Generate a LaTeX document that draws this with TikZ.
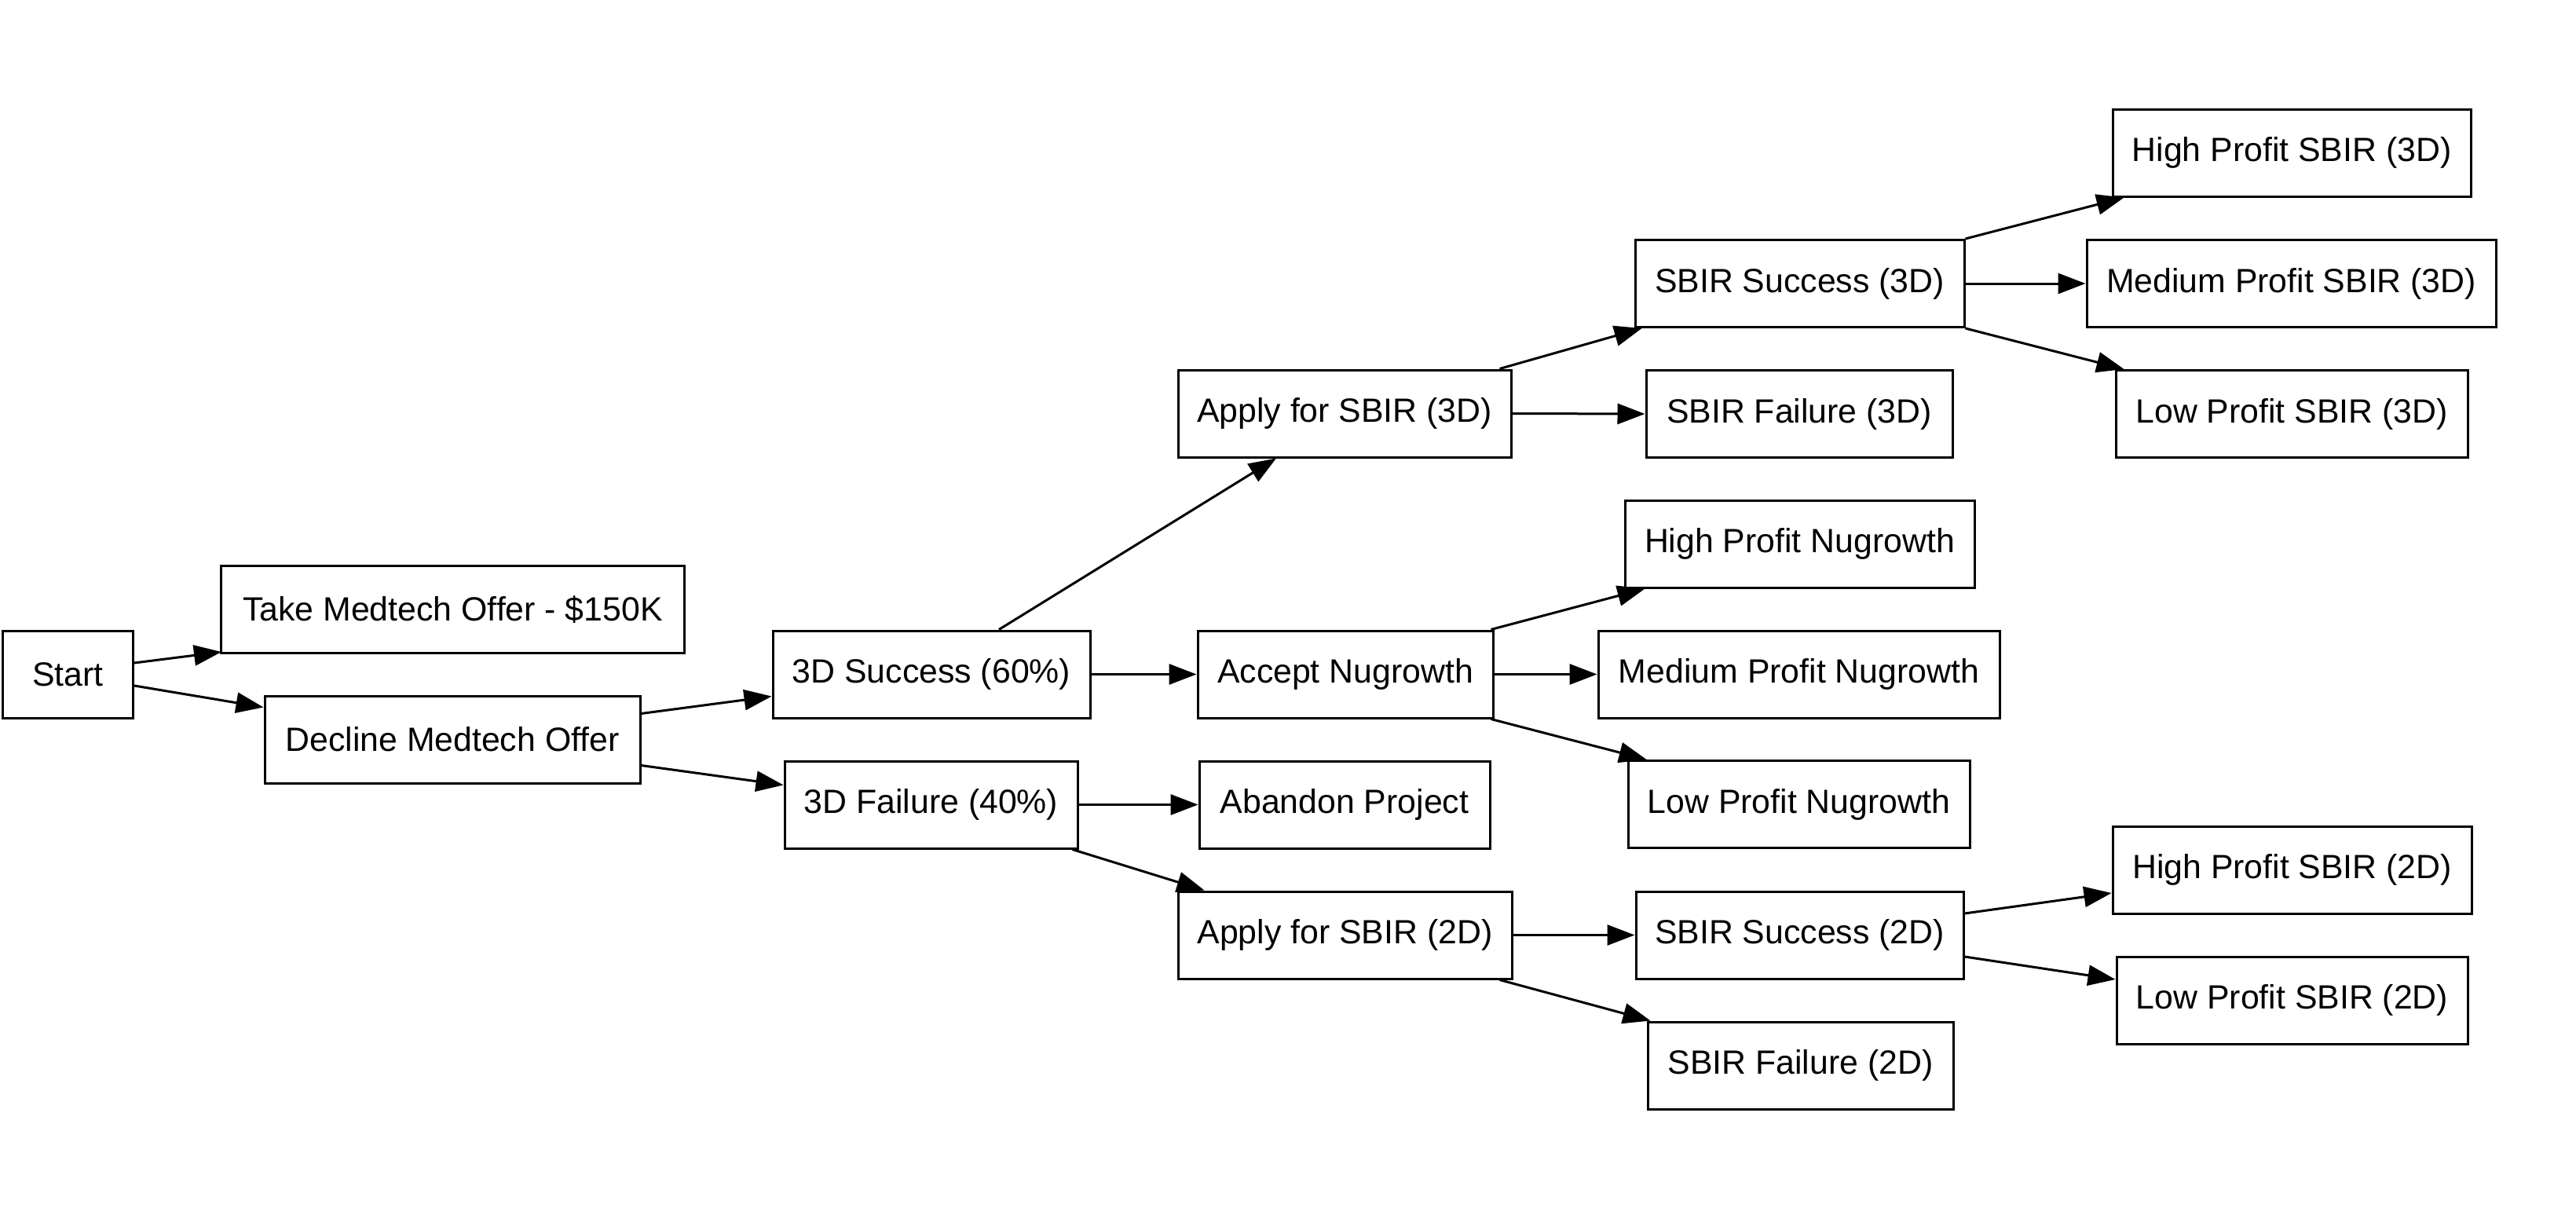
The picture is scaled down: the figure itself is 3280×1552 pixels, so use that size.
\documentclass[tikz,border=0pt]{standalone}
\usepackage{fontspec}
\setmainfont{Liberation Sans}
\usetikzlibrary{arrows.meta,calc}
\tikzset{
  box/.style={draw=black, line width=0.75pt, rectangle, inner sep=0pt,
    minimum height=27.75pt, font=\fontsize{10.7pt}{12pt}\selectfont, text=black},
  edge/.style={draw=black, line width=0.75pt, -{Triangle[length=8.75pt,width=6.5pt]}}
}
\begin{document}
\begin{tikzpicture}[x=0.25pt,y=-0.25pt]
\useasboundingbox (0,0) rectangle (3280,1552);
% column 1
\node[box, minimum width=41.5pt] (start) at (86.5,858.5) {Start};
% column 2
\node[box, minimum width=147.5pt] (take) at (576.5,776) {Take Medtech Offer - \$150K};
\node[box, minimum width=119.5pt] (decline) at (576,941.5) {Decline Medtech Offer};
% column 3
\node[box, minimum width=101pt] (s3d) at (1186,858.5) {3D Success (60\%)};
\node[box, minimum width=93.25pt] (f3d) at (1185.5,1024.5) {3D Failure (40\%)};
% column 4
\node[box, minimum width=106pt] (apply3) at (1712,526.5) {Apply for SBIR (3D)};
\node[box, minimum width=94pt] (accept) at (1713,858.5) {Accept Nugrowth};
\node[box, minimum width=92.5pt] (abandon) at (1712,1024.5) {Abandon Project};
\node[box, minimum width=106.25pt] (apply2) at (1712.5,1190.5) {Apply for SBIR (2D)};
% column 5
\node[box, minimum width=104.75pt] (sbs3) at (2291.5,361) {SBIR Success (3D)};
\node[box, minimum width=97.5pt] (sbf3) at (2291,527) {SBIR Failure (3D)};
\node[box, minimum width=111.25pt] (hin) at (2291.5,692.5) {High Profit Nugrowth};
\node[box, minimum width=127.75pt] (min) at (2290.5,858.5) {Medium Profit Nugrowth};
\node[box, minimum width=108.75pt] (lon) at (2290.5,1024) {Low Profit Nugrowth};
\node[box, minimum width=104.25pt] (sbs2) at (2291.5,1190.5) {SBIR Success (2D)};
\node[box, minimum width=97.25pt] (sbf2) at (2292.5,1356.5) {SBIR Failure (2D)};
% column 6
\node[box, minimum width=114pt] (hs3) at (2918,194.5) {High Profit SBIR (3D)};
\node[box, minimum width=130.25pt] (ms3) at (2917.5,361) {Medium Profit SBIR (3D)};
\node[box, minimum width=112pt] (ls3) at (2918,527) {Low Profit SBIR (3D)};
\node[box, minimum width=114.25pt] (hs2) at (2918.5,1107.5) {High Profit SBIR (2D)};
\node[box, minimum width=111.75pt] (ls2) at (2918.5,1273.5) {Low Profit SBIR (2D)};
% edges
\draw[edge] ($(start.east)+(0,-14.5)$) -- ($(take.south west)+(2,-3)$);
\draw[edge] ($(start.east)+(0,14.5)$) -- ($(decline.north west)+(0,16)$);
\draw[edge] ($(decline.east)+(0,-33)$) -- ($(s3d.west)+(0,28)$);
\draw[edge] ($(decline.east)+(0,33)$) -- ($(f3d.west)+(0,-25)$);
\draw[edge] ($(s3d.north)+(86,0)$) -- ($(apply3.south)+(-87,0)$);
\draw[edge] (s3d.east) -- (accept.west);
\draw[edge] (f3d.east) -- (abandon.west);
\draw[edge] ($(f3d.south east)+(-8,0)$) -- ($(apply2.north west)+(35,0)$);
\draw[edge] ($(apply3.north east)+(-16,0)$) -- ($(sbs3.south west)+(10,0)$);
\draw[edge] (apply3.east) -- (sbf3.west);
\draw[edge] (sbs3.north east) -- ($(hs3.south west)+(16,0)$);
\draw[edge] (sbs3.east) -- (ms3.west);
\draw[edge] (sbs3.south east) -- ($(ls3.north west)+(12,0)$);
\draw[edge] ($(accept.north east)+(-4,0)$) -- ($(hin.south west)+(27,0)$);
\draw[edge] (accept.east) -- (min.west);
\draw[edge] ($(accept.south east)+(-4,0)$) -- ($(lon.north west)+(25,0)$);
\draw[edge] (apply2.east) -- (sbs2.west);
\draw[edge] ($(apply2.south east)+(-17,0)$) -- ($(sbf2.north west)+(5,0)$);
\draw[edge] ($(sbs2.east)+(0,-27.5)$) -- ($(hs2.west)+(0,29.5)$);
\draw[edge] ($(sbs2.east)+(0,27.5)$) -- ($(ls2.west)+(0,-26.5)$);
\end{tikzpicture}
\end{document}
